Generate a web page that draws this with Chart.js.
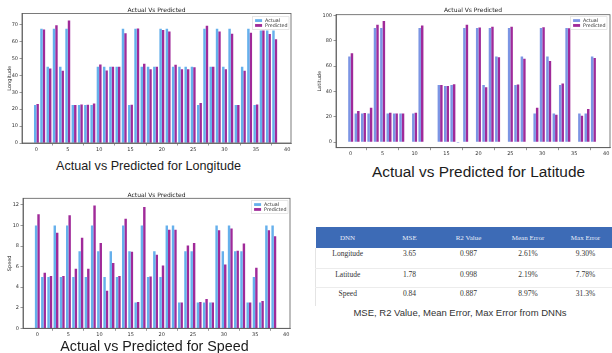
<!DOCTYPE html>
<html><head><meta charset="utf-8">
<script src="https://cdn.jsdelivr.net/npm/chart.js@4"></script>
<style>
html,body{margin:0;padding:0;background:#fff;width:612px;height:353px;overflow:hidden;position:relative}
.cv{position:absolute}
.cap{position:absolute;font-family:'Liberation Sans',Arial,sans-serif;color:#1c1c1c;white-space:nowrap;line-height:1;transform:translate(-50%,-50%)}
#tbl{position:absolute;left:315px;top:227px;width:297px;border-collapse:collapse;table-layout:fixed;font-family:'Liberation Serif','Times New Roman',serif}
#tbl th{height:21px;background:#3d6bb6;color:#e9eef8;font-weight:normal;font-size:7px;text-align:center;vertical-align:middle;padding:0}
#tbl td{font-size:7.5px;color:#333;text-align:center;vertical-align:top;padding:2px 0 0 0;line-height:8px}
#tbl tr.r0 td{height:18px;border-bottom:1px solid #ececec}
#tbl tr.r1 td{height:16px;border-bottom:1px solid #ececec}
#tbl tr.r2 td{height:16px}
#tbl td:first-child{border-left:1px solid #e4e4e4}
</style></head><body>
<div class="cv" style="left:0;top:0"><canvas id="c1" width="296" height="156"></canvas></div>
<div class="cv" style="left:310px;top:0"><canvas id="c2" width="302" height="160"></canvas></div>
<div class="cv" style="left:0;top:185px"><canvas id="c3" width="296" height="156"></canvas></div>
<div class="cap" style="left:148.5px;top:166px;font-size:12.6px">Actual vs Predicted for Longitude</div>
<div class="cap" style="left:478.5px;top:172px;font-size:15.4px">Actual vs Predicted for Latitude</div>
<div class="cap" style="left:154.5px;top:345.7px;font-size:14.3px">Actual vs Predicted for Speed</div>
<table id="tbl"><colgroup><col style="width:64px"><col style="width:60px"><col style="width:58px"><col style="width:61px"><col style="width:54px"></colgroup><thead><tr id="hdr"></tr></thead><tbody id="tb"></tbody></table>
<div class="cap" style="left:460px;top:313px;font-size:9.5px;color:#333">MSE, R2 Value, Mean Error, Max Error from DNNs</div>
<script>
// ---------- data ----------
const categories = [0,1,2,3,4,5,6,7,8,9,10,11,12,13,14,15,16,17,18,19,20,21,22,23,24,25,26,27,28,29,30,31,32,33,34,35,36,37,38];
const xTickValues = [0,5,10,15,20,25,30,35,40];

const lonActual    = [22.5,67.5,45,67.5,45,67.5,22.5,22.5,22.5,22.5,45,45,45,45,67.5,22.5,67.5,45,45,45,67.5,67.5,45,45,45,45,22.5,67.5,45,67.5,45,67.5,22.5,45,67.5,22.5,66.5,66.5,66.5];
const lonPredicted = [23,67,44,69.5,42.7,72.3,22.5,22.8,22.6,23.4,46.3,42.8,45,45,64.8,22.6,67.6,46.8,43.5,45,66.8,65.8,46.2,43.5,43.6,44.8,23.7,69.2,45.1,65.8,43.5,64.6,22.4,42.7,65.2,22.7,66.4,64.4,61.3];
const lonYTicks = [0,10,20,30,40,50,60,70];

const latActual    = [67.5,22.5,22.5,22.5,90,90,22.5,22.5,22.5,null,22.5,90,null,null,45,44.2,45,-0.6,90,null,90,45,90,67.5,null,90,45,67.5,null,22.5,90,67.5,22.5,45,90,null,22.5,22.5,67.5];
const latPredicted = [70,24.5,22.8,27,92.5,95.5,23,22.5,22.5,null,23,92,null,null,45,44.2,45.5,null,92.5,null,90.3,43.3,91,67,null,91,45.3,65.8,null,27,90.5,64,21.5,46.2,89.8,null,20.7,26,66.3];
const latYTicks = [0,20,40,60,80,100];

const spdActual    = [10,5,5,10,5,10,5,7.5,5,10,7.5,5,7.5,5,10,7.5,2.5,10,5,7.5,5,10,10,2.5,7.5,7.5,2.5,2.5,2.5,10,7.5,10,7.5,7.5,2.5,5,2.5,10,10];
const spdPredicted = [11.1,5.4,5.1,9.3,5.1,11,5.8,8.8,5.8,11.95,8.3,3.65,6.35,5.1,10.65,7.45,2.55,11.8,5.05,7.15,6.1,9.6,9.6,2.5,8.05,8.3,2.56,2.85,2.5,9.55,6.2,9.7,7.55,8.25,2.5,5.9,2.66,9.55,8.95];
const spdYTicks = [0,2,4,6,8,10,12];

const seriesNames = ['Actual','Predicted'];
const chartTitle = 'Actual Vs Predicted';

const tableHeader = ['DNN','MSE','R2 Value','Mean Error','Max Error'];
const tableRows   = ['Longitude','Latitude','Speed'];
const mseValues   = ['3.65','1.78','0.84'];
const r2Values    = ['0.987','0.998','0.887'];
const meanErrors  = ['2.61%','2.19%','8.97%'];
const maxErrors   = ['9.30%','7.78%','31.3%'];

// ---------- table ----------
document.getElementById('hdr').innerHTML = tableHeader.map(h => '<th>' + h + '</th>').join('');
document.getElementById('tb').innerHTML = tableRows.map((r, i) =>
  '<tr class="r' + i + '"><td>' + r + '</td><td>' + mseValues[i] + '</td><td>' + r2Values[i] +
  '</td><td>' + meanErrors[i] + '</td><td>' + maxErrors[i] + '</td></tr>').join('');

// ---------- plugins ----------
const framePlugin = {
  id: 'frame',
  afterDatasetsDraw(chart) {
    const {ctx, chartArea: a} = chart;
    ctx.save();
    ctx.strokeStyle = '#5a5a5a';
    ctx.lineWidth = 0.8;
    ctx.strokeRect(a.left, a.top, a.right - a.left, a.bottom - a.top);
    ctx.restore();
  }
};
const insideLegend = {
  id: 'insideLegend',
  afterDatasetsDraw(chart, args, opts) {
    const {ctx, chartArea: a} = chart;
    const fs = 4.8, pw = 7, gap = 3, pad = 1.4, rowH = 4.9;
    const ds = chart.data.datasets;
    ctx.save();
    ctx.font = fs + 'px "DejaVu Sans"';
    const tw = Math.max(...ds.map(d => ctx.measureText(d.label).width));
    const w = pad * 2 + pw + gap + tw + 1;
    const h = pad * 2 + rowH * ds.length;
    const x0 = a.right - opts.right - w, y0 = a.top + opts.top;
    ctx.globalAlpha = 0.85;
    ctx.fillStyle = '#fff';
    ctx.fillRect(x0, y0, w, h);
    ctx.globalAlpha = 1;
    ctx.strokeStyle = '#d6d6d6';
    ctx.lineWidth = 0.6;
    ctx.strokeRect(x0, y0, w, h);
    ds.forEach((d, i) => {
      const cy = y0 + pad + rowH * i + rowH / 2;
      ctx.fillStyle = d.backgroundColor;
      ctx.fillRect(x0 + pad + 1, cy - 1.4, pw, 2.8);
      ctx.fillStyle = '#333';
      ctx.textBaseline = 'middle';
      ctx.textAlign = 'left';
      ctx.fillText(d.label, x0 + pad + 1 + pw + gap, cy);
    });
    ctx.restore();
  }
};

// ---------- chart factory ----------
function makeChart(id, actual, predicted, cfg) {
  const font5 = {size: 5, family: 'DejaVu Sans'};
  return new Chart(document.getElementById(id), {
    type: 'bar',
    data: {
      labels: categories,
      datasets: [
        {label: seriesNames[0], data: actual, backgroundColor: cfg.actualColor, borderWidth: 0, categoryPercentage: 0.78, barPercentage: 1.0},
        {label: seriesNames[1], data: predicted, backgroundColor: '#a02a99', borderWidth: 0, categoryPercentage: 0.78, barPercentage: 1.0}
      ]
    },
    options: {
      responsive: false,
      animation: false,
      layout: {padding: {left: 0, top: 0, right: cfg.padRight, bottom: 0}},
      plugins: {
        legend: {display: false},
        tooltip: {enabled: false},
        title: {display: true, text: chartTitle, fullSize: false, color: '#222',
                font: {size: 6, family: 'DejaVu Sans', weight: 'normal', lineHeight: 1},
                padding: {top: 7, bottom: cfg.titleBottom}},
        insideLegend: cfg.legend
      },
      scales: {
        x: {
          type: 'linear', min: -2.3, max: 40.6, offset: false,
          afterBuildTicks: s => { s.ticks = xTickValues.map(v => ({value: v})); },
          afterFit: s => { s.height = cfg.xH; },
          grid: {display: true, drawOnChartArea: false, drawTicks: true, tickLength: 2.5, color: '#555', lineWidth: 0.6},
          border: {display: true, color: '#5a5a5a', width: 0.8},
          ticks: {font: font5, color: '#333', padding: 1, maxRotation: 0, autoSkip: false}
        },
        y: {
          min: cfg.yMin, max: cfg.yMax,
          afterBuildTicks: s => { s.ticks = cfg.yTicks.map(v => ({value: v})); },
          afterFit: s => { s.width = cfg.yW; },
          grid: {display: true, drawOnChartArea: false, drawTicks: true, tickLength: 2.5, color: '#555', lineWidth: 0.6},
          border: {display: true, color: '#5a5a5a', width: 0.8},
          ticks: {font: font5, color: '#333', padding: 1.5, autoSkip: false},
          title: {display: true, text: cfg.yTitle, font: font5, color: '#333', padding: {top: 7, bottom: 0}}
        }
      }
    },
    plugins: [framePlugin, insideLegend]
  });
}

makeChart('c1', lonActual, lonPredicted, {
  actualColor: '#66b0ec', yMin: 0, yMax: 76.5, yTicks: lonYTicks, yTitle: 'Longitude',
  yW: 22, xH: 13, padRight: 5, titleBottom: 0.5, legend: {right: 2, top: 3.2}
});
makeChart('c2', latActual, latPredicted, {
  actualColor: '#7c95e4', yMin: -4.5, yMax: 100.5, yTicks: latYTicks, yTitle: 'Latitude',
  yW: 26, xH: 12.3, padRight: 2, titleBottom: 1.7, legend: {right: 3, top: 2}
});
makeChart('c3', spdActual, spdPredicted, {
  actualColor: '#66b0ec', yMin: 0, yMax: 12.65, yTicks: spdYTicks, yTitle: 'Speed',
  yW: 23, xH: 12.7, padRight: 6, titleBottom: 0.3, legend: {right: 2, top: 2.4}
});
</script>
</body></html>
